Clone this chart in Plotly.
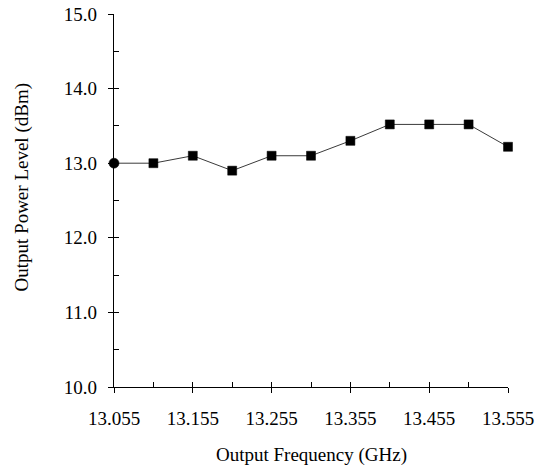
import plotly.graph_objects as go

freq = [13.055, 13.105, 13.155, 13.205, 13.255, 13.305, 13.355, 13.405, 13.455, 13.505, 13.555]
power = [13.0, 13.0, 13.1, 12.9, 13.1, 13.1, 13.3, 13.52, 13.52, 13.52, 13.22]
symbols = ["circle"] + ["square"] * (len(freq) - 1)
sizes = [10] + [9] * (len(freq) - 1)

x_major = [13.055, 13.155, 13.255, 13.355, 13.455, 13.555]
x_major_text = ["13.055", "13.155", "13.255", "13.355", "13.455", "13.555"]
x_all = [13.055, 13.105, 13.155, 13.205, 13.255, 13.305, 13.355, 13.405, 13.455, 13.505, 13.555]
y_major = [10, 11, 12, 13, 14, 15]
y_major_text = ["10.0", "11.0", "12.0", "13.0", "14.0", "15.0"]
y_all = [10, 10.5, 11, 11.5, 12, 12.5, 13, 13.5, 14, 14.5, 15]

FONT = "Liberation Serif"
FS = 19

fig = go.Figure()
# invisible trace for overlay axes (inside ticks), drawn first
fig.add_trace(go.Scatter(x=[freq[0]], y=[power[0]], xaxis="x2", yaxis="y2",
                         mode="markers", marker=dict(opacity=0), showlegend=False,
                         hoverinfo="skip"))
fig.add_trace(go.Scatter(
    x=freq, y=power, mode="lines+markers",
    line=dict(color="#3a3a3a", width=1),
    marker=dict(symbol=symbols, size=sizes, color="#000000", opacity=1,
                line=dict(color="#000000", width=0.5)),
    cliponaxis=False, showlegend=False,
))

fig.update_layout(
    width=543, height=473,
    margin=dict(l=114, r=35, t=14, b=86),
    paper_bgcolor="white", plot_bgcolor="white",
    font=dict(family=FONT, color="black", size=FS),
    xaxis=dict(
        range=[13.055, 13.555], showgrid=False, zeroline=False, automargin=False,
        showline=True, linecolor="black", linewidth=1.3,
        tickvals=x_major, ticktext=x_major_text,
        ticks="outside", ticklen=5, tickcolor="black", tickwidth=1.2,
        ticklabelstandoff=9,
    ),
    yaxis=dict(
        range=[10, 15], showgrid=False, zeroline=False, automargin=False,
        showline=True, linecolor="black", linewidth=1.3,
        tickvals=y_major, ticktext=y_major_text,
        ticks="outside", ticklen=5, tickcolor="black", tickwidth=1.2,
        ticklabelstandoff=7,
    ),
    xaxis2=dict(
        range=[13.055, 13.555], overlaying="x", anchor="y", side="bottom",
        showgrid=False, zeroline=False, showline=False, showticklabels=False,
        automargin=False,
        tickvals=x_all, ticks="inside", ticklen=5, tickcolor="black",
    ),
    yaxis2=dict(
        range=[10, 15], overlaying="y", anchor="x", side="left",
        showgrid=False, zeroline=False, showline=False, showticklabels=False,
        automargin=False,
        tickvals=y_all, ticks="inside", ticklen=5, tickcolor="black",
    ),
    annotations=[
        dict(text="Output Frequency (GHz)", xref="paper", yref="paper",
             x=0.5, y=-0.182, showarrow=False, xanchor="center", yanchor="middle",
             font=dict(size=FS)),
        dict(text="Output Power Level (dBm)", xref="paper", yref="paper",
             x=-0.2335, y=0.535, showarrow=False, xanchor="center", yanchor="middle",
             textangle=-90, font=dict(size=FS)),
    ],
)

fig.write_html("out.html")
